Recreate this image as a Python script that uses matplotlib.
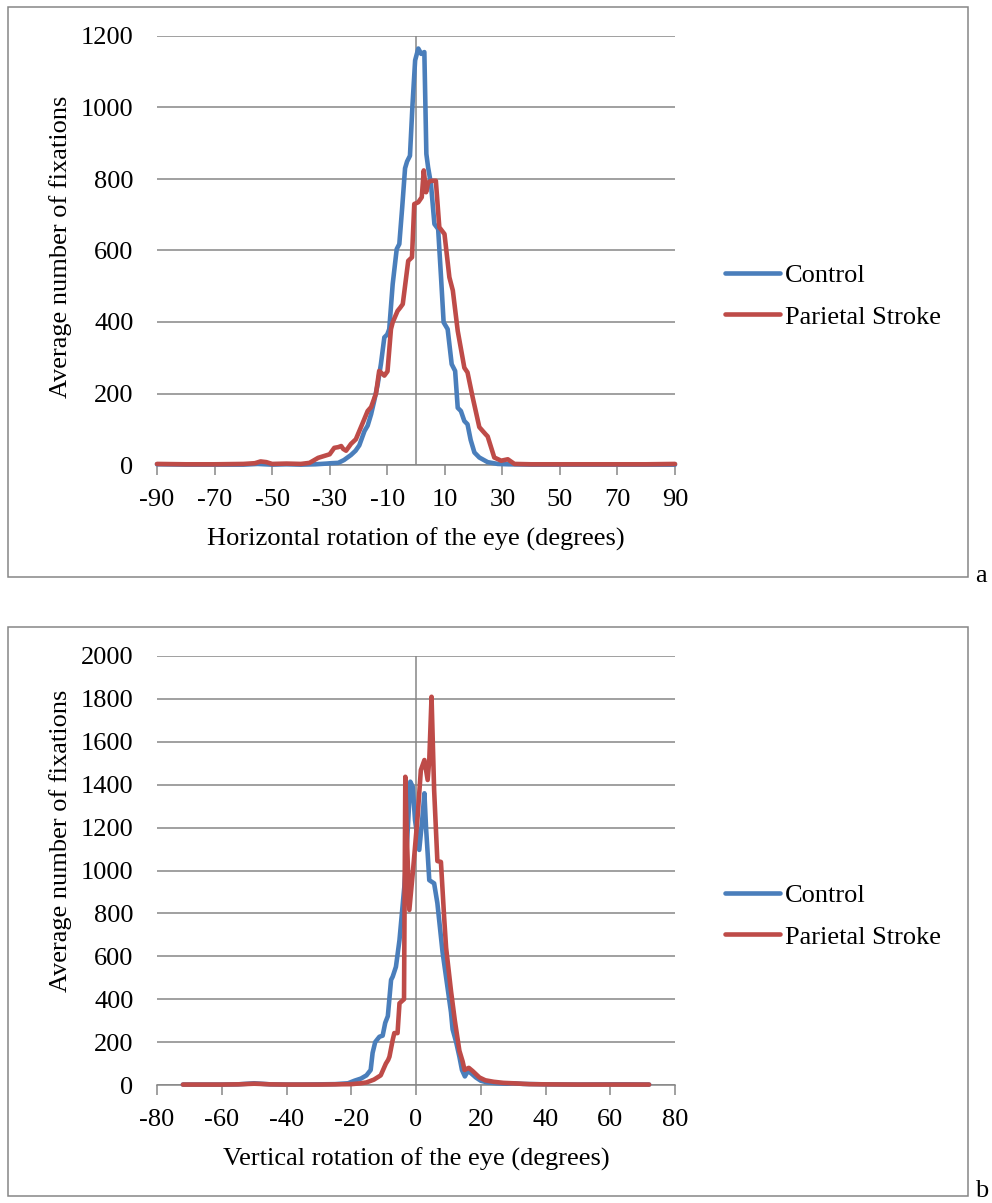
import matplotlib
matplotlib.use("Agg")
import matplotlib.pyplot as plt
from matplotlib.patches import Rectangle

plt.rcParams['font.family'] = ['Liberation Serif', 'DejaVu Serif']
plt.rcParams['font.size'] = 19
plt.rcParams['axes.unicode_minus'] = False

BLUE = '#4A7EBB'
RED = '#BE4B48'
GRID = '#868686'

# (a) horizontal rotation
h_ctrl_x = [-90, -80, -70, -60, -55, -50, -45, -40, -35, -31, -29.5, -27, -25, -22.6, -21, -19.7,
            -17.9, -16.8, -15.6, -14.5, -13.3, -12.2, -11, -10, -9.3, -8.1, -6.7, -5.8, -4.8, -3.8,
            -3.1, -2.1, -1.2, -0.3, 0.8, 1.8, 2.9, 3.6, 4.2, 5.2, 6.4, 7.7, 8.7, 9.6, 11, 12.4,
            13.6, 14.5, 15.6, 16.8, 17.9, 19, 20.3, 22, 24.9, 28.4, 32, 40, 50, 60, 70, 80, 90]
h_ctrl_y = [2, 1, 1, 1, 3, 1, 2, 1, 2, 4, 5, 6, 14, 28, 40, 55,
            95, 110, 142, 180, 226, 282, 357, 365, 380, 506, 604, 618, 720, 830,
            849, 865, 1010, 1132, 1165, 1150, 1155, 870, 833, 786, 674, 660, 525, 399, 380, 282,
            263, 160, 151, 123, 114, 70, 35, 21, 8, 3, 2, 1, 1, 1, 1, 1, 1]

h_par_x = [-90, -80, -70, -60, -56, -54, -52, -50, -45, -40, -37, -34, -32, -30, -28.4, -27, -26,
           -25.3, -24.3, -22.6, -20.9, -19.7, -18.5, -16.8, -15.6, -13.9, -12.8, -11, -9.9, -8.7,
           -8.1, -6.4, -5.5, -4.6, -2.7, -1.4, -0.6, 0.8, 2.0, 2.7, 3.5, 4.2, 5.2, 6.9, 8.1, 9.9,
           11.6, 12.8, 14.5, 16.8, 17.9, 19.7, 22, 23.2, 24.3, 24.9, 27.2, 29.6, 31.9, 34.2,
           40, 50, 60, 70, 80, 90]
h_par_y = [3, 2, 2, 3, 5, 10, 8, 3, 4, 3, 6, 20, 25, 30, 48, 50, 53,
           45, 40, 59, 72, 95, 118, 151, 162, 200, 263, 250, 262, 380,
           399, 431, 440, 450, 571, 581, 730, 735, 749, 824, 763, 790, 795, 795, 665, 646,
           525, 488, 375, 272, 259, 189, 106, 95, 85, 80, 21, 12, 16, 3,
           2, 2, 2, 2, 2, 3]

# (b) vertical rotation
v_ctrl_x = [-72, -65, -60, -55, -50, -48, -45, -40, -35, -30, -25, -21, -19, -17, -15.3, -14,
            -13.4, -12.6, -11.3, -10.3, -9.5, -8.7, -7.7, -7.2, -6.2, -5.1, -3.6, -2.7, -1.75,
            -1.0, -0.3, 1.0, 2.0, 2.6, 3.1, 3.6, 4.1, 5.6, 6.6, 8.2, 9.5, 10.8, 11.3, 12.4, 13.4,
            14.2, 15.1, 16.0, 17.0, 18.5, 20, 22, 25, 28, 30, 33, 40, 50, 60, 65, 72]
v_ctrl_y = [2, 2, 2, 3, 8, 6, 3, 2, 2, 3, 4, 8, 20, 30, 45, 70,
            150, 200, 225, 230, 290, 321, 490, 505, 551, 676, 925, 1150, 1414,
            1390, 1235, 1096, 1250, 1360, 1200, 1080, 955, 940, 848, 620, 480, 340, 260, 200, 132,
            70, 40, 65, 55, 35, 20, 12, 8, 6, 8, 5, 3, 2, 3, 3, 2]

v_par_x = [-72, -65, -60, -55, -50, -48, -45, -40, -30, -25, -20, -17, -15.3, -13, -10.9, -9.3,
           -8.6, -8.2, -7.2, -6.7, -5.7, -5.1, -3.7, -3.3, -2.8, -2.06, -1.0, 0.5, 1.5, 2.6, 3.6,
           4.1, 4.8, 5.6, 6.6, 7.7, 8.7, 9.3, 10.8, 12.0, 13.4, 14.4, 15.0, 16.3, 17.5, 19.6,
           21.4, 24, 27, 30, 35, 40, 50, 60, 70, 72]
v_par_y = [2, 2, 2, 3, 6, 5, 3, 2, 2, 3, 4, 8, 12, 25, 45, 100,
           117, 132, 210, 242, 242, 381, 400, 1437, 1150, 816, 987, 1251, 1468, 1515, 1422,
           1515, 1810, 1375, 1044, 1040, 780, 640, 440, 300, 160, 110, 70, 80, 65, 35,
           22, 15, 10, 8, 4, 3, 2, 2, 2, 2]

series_names = ['Control', 'Parietal Stroke']

W, H = 992, 1203
fig = plt.figure(figsize=(W / 100, H / 100), dpi=100)


def px_rect(l, t, r, b):
    return [l / W, 1 - b / H, (r - l) / W, (b - t) / H]


def panel(rect, box, cx, cy, px, py, xlim, xticks, ymax, xlabel, ylab_y, leg_y, letter, letter_y):
    ax = fig.add_axes(px_rect(*rect))
    l1, = ax.plot(cx, cy, color=BLUE, lw=3.3, solid_joinstyle='round',
                  solid_capstyle='round', clip_on=False, zorder=3)
    l2, = ax.plot(px, py, color=RED, lw=3.3, solid_joinstyle='round',
                  solid_capstyle='round', clip_on=False, zorder=4)
    ax.set_xlim(*xlim)
    ax.set_ylim(0, ymax)
    ax.set_xticks(xticks)
    ax.set_yticks(range(0, ymax + 1, 200))
    for s in ['left', 'right', 'top']:
        ax.spines[s].set_visible(False)
    ax.spines['bottom'].set_color(GRID)
    ax.spines['bottom'].set_linewidth(1.1)
    ax.yaxis.grid(True, color=GRID, lw=1.1)
    ax.set_axisbelow(True)
    ax.axvline(0, color=GRID, lw=1.1, zorder=1)
    ax.tick_params(axis='y', length=0, pad=17)
    ax.tick_params(axis='x', length=7, width=1.1, color=GRID, pad=10, direction='out')
    ax.set_xlabel(xlabel, labelpad=12)
    ax.text(-0.187, ylab_y, 'Average number of fixations', rotation=90,
            ha='center', va='center', transform=ax.transAxes)
    ax.legend([l1, l2], series_names, loc='center left',
              bbox_to_anchor=(725 / W, 1 - leg_y / H), bbox_transform=fig.transFigure,
              frameon=False, handlelength=2.08, handletextpad=0.2, labelspacing=0.7,
              borderpad=0, borderaxespad=0)
    l, t, r, b = box
    fig.add_artist(Rectangle((l / W, 1 - b / H), (r - l) / W, (b - t) / H,
                             transform=fig.transFigure, fill=False, ec=GRID, lw=1.1))
    fig.text(975 / W, 1 - letter_y / H, letter, ha='left', va='baseline')
    return ax


panel((157, 36, 675, 465), (8, 7, 968, 577), h_ctrl_x, h_ctrl_y, h_par_x, h_par_y,
      (-90, 90), range(-90, 91, 20), 1200,
      'Horizontal rotation of the eye (degrees)', 0.508, 296, 'a', 582)
panel((157, 656, 675, 1085), (8, 627, 968, 1196), v_ctrl_x, v_ctrl_y, v_par_x, v_par_y,
      (-80, 80), range(-80, 81, 20), 2000,
      'Vertical rotation of the eye (degrees)', 0.57, 916, 'b', 1197)

fig.savefig('out.png', dpi=100)
